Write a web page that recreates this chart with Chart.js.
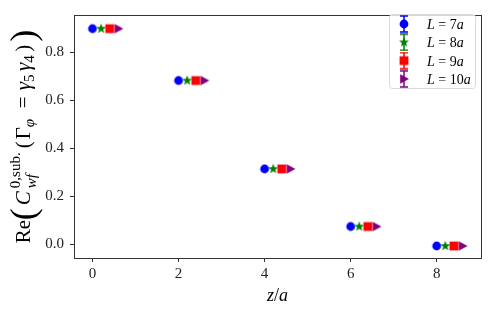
<!DOCTYPE html>
<html>
<head>
<meta charset="utf-8">
<script src="https://cdn.jsdelivr.net/npm/chart.js@4"></script>
<style>
  html, body { margin: 0; padding: 0; background: #fff; }
  #wrap { width: 489px; height: 312px; }
</style>
</head>
<body>
<div id="wrap"><canvas id="chart" width="489" height="312"></canvas></div>
<script>
// data
const zValues = [0, 2, 4, 6, 8];
const seriesLabels = ["7", "8", "9", "10"];
const xShift = [0, 0.2, 0.4, 0.6];
const valsL7 = [0.899, 0.683, 0.315, 0.075, -0.006];
const valsL8 = [0.899, 0.683, 0.315, 0.075, -0.006];
const valsL9 = [0.899, 0.683, 0.315, 0.075, -0.006];
const valsL10 = [0.899, 0.683, 0.315, 0.075, -0.006];
const xTicks = [0, 2, 4, 6, 8];
const yTicks = [0.0, 0.2, 0.4, 0.6, 0.8];

const colors = ["#0000ff", "#008000", "#ff0000", "#800080"];
const shapes = ["circle", "star", "square", "triRight"];
const SERIF = "'Liberation Serif', 'DejaVu Serif', serif";

// marker drawn on a small canvas, so the star and the right triangle look like matplotlib
function marker(shape, color, withBar) {
  const c = document.createElement("canvas");
  const w = 14, h = withBar ? 18 : 14;
  c.width = w; c.height = h;
  const g = c.getContext("2d");
  const cx = w / 2, cy = h / 2;
  g.fillStyle = color;
  g.strokeStyle = color;
  if (withBar) {
    g.lineWidth = 1.5;
    g.beginPath();
    g.moveTo(cx, 1); g.lineTo(cx, h - 1);
    g.moveTo(cx - 4, 1); g.lineTo(cx + 4, 1);
    g.moveTo(cx - 4, h - 1); g.lineTo(cx + 4, h - 1);
    g.stroke();
  }
  g.beginPath();
  if (shape === "circle") {
    g.arc(cx, cy, 4.4, 0, Math.PI * 2);
  } else if (shape === "square") {
    g.rect(cx - 4.4, cy - 4.4, 8.8, 8.8);
  } else if (shape === "triRight") {
    g.moveTo(cx + 5, cy);
    g.lineTo(cx - 3.8, cy - 4.8);
    g.lineTo(cx - 3.8, cy + 4.8);
    g.closePath();
  } else if (shape === "star") {
    for (let i = 0; i < 10; i++) {
      const r = i % 2 === 0 ? 5.2 : 2.2;
      const a = -Math.PI / 2 + i * Math.PI / 5;
      const px = cx + r * Math.cos(a), py = cy + r * Math.sin(a);
      if (i === 0) g.moveTo(px, py); else g.lineTo(px, py);
    }
    g.closePath();
  }
  g.fill();
  return c;
}

const allVals = [valsL7, valsL8, valsL9, valsL10];
const datasets = allVals.map((vals, i) => ({
  label: seriesLabels[i],
  data: zValues.map((z, k) => ({ x: z + xShift[i], y: vals[k] })),
  pointStyle: marker(shapes[i], colors[i], false),
  legendStyle: marker(shapes[i], colors[i], true),
  backgroundColor: colors[i],
  borderColor: colors[i],
  showLine: false
}));

// text pieces: [text, size, italic, dy, fixed advance]
function runWidth(g, parts) {
  let w = 0;
  parts.forEach(p => {
    g.font = (p[2] ? "italic " : "") + p[1] + "px " + SERIF;
    w += p[4] !== undefined ? p[4] : g.measureText(p[0]).width;
  });
  return w;
}
function drawRun(g, parts, x, y) {
  parts.forEach(p => {
    g.font = (p[2] ? "italic " : "") + p[1] + "px " + SERIF;
    g.fillText(p[0], x, y + (p[3] || 0));
    x += p[4] !== undefined ? p[4] : g.measureText(p[0]).width;
  });
  return x;
}

const decor = {
  id: "decor",
  afterDraw(chart) {
    const g = chart.ctx;
    const a = chart.chartArea;
    g.save();
    // frame on all four sides
    g.strokeStyle = "#333";
    g.lineWidth = 1;
    g.strokeRect(Math.round(a.left) + 0.5, Math.round(a.top) + 0.5,
      Math.round(a.right - a.left), Math.round(a.bottom - a.top));

    g.fillStyle = "#000";
    g.textBaseline = "alphabetic";

    // x title
    const xParts = [["z", 18, true, 0], ["/", 18, false, 0], ["a", 18, true, 0]];
    const xw = runWidth(g, xParts);
    drawRun(g, xParts, (a.left + a.right) / 2 - xw / 2, 301);

    // y title, rotated
    g.font = "15px " + SERIF;
    const supW = g.measureText("0,sub.").width;
    const yParts = [
      ["Re", 21, false, 0, 23],
      ["(", 36, false, 5, 15],
      ["C", 21, true, 0, 17],
      ["0,sub.", 15, false, -10, 0],
      ["wf", 15, true, 6, supW + 4],
      ["(", 21, false, 0, 9],
      ["Γ", 21, false, 0],
      ["φ", 15, true, 4, 13],
      ["", 21, false, 0, 6],
      ["=", 21, false, 0],
      ["", 21, false, 0, 6],
      ["γ", 21, true, 0],
      ["5", 15, false, 4, 11],
      ["γ", 21, true, 0],
      ["4", 15, false, 4, 11],
      [")", 21, false, 0, 10],
      [")", 36, false, 5]
    ];
    const yw = runWidth(g, yParts);
    g.save();
    g.translate(30, (a.top + a.bottom) / 2);
    g.rotate(-Math.PI / 2);
    drawRun(g, yParts, -yw / 2, 0);
    g.restore();

    // legend box in the upper right
    const bx = 389, by = 14, bw = 86, bh = 74;
    g.fillStyle = "rgba(255,255,255,0.8)";
    g.strokeStyle = "#d8d8d8";
    g.beginPath();
    g.roundRect(bx + 0.5, by + 0.5, bw, bh, 3);
    g.fill();
    g.stroke();
    chart.data.datasets.forEach((ds, i) => {
      const ry = by + 10 + i * 18.3;
      const img = ds.legendStyle;
      g.drawImage(img, 404 - img.width / 2, ry - img.height / 2);
      g.fillStyle = "#000";
      drawRun(g, [["L", 14, true, 0], [" = " + ds.label, 14, false, 0], ["a", 14, true, 0]], 427, ry + 5);
    });
    g.restore();
  }
};

new Chart(document.getElementById("chart"), {
  type: "scatter",
  data: { datasets: datasets },
  options: {
    responsive: false,
    animation: false,
    layout: { padding: { top: 5, right: 8, left: 0, bottom: 0 } },
    elements: { point: { radius: 5, hoverRadius: 5 } },
    plugins: { legend: { display: false }, tooltip: { enabled: false } },
    scales: {
      x: {
        type: "linear",
        min: -0.43,
        max: 9.03,
        afterBuildTicks: s => { s.ticks = xTicks.map(v => ({ value: v })); },
        afterFit: s => { s.height = 54; },
        border: { display: false },
        grid: { drawOnChartArea: false, drawTicks: true, tickLength: 4, color: "#333" },
        ticks: { color: "#222", font: { family: SERIF, size: 15 }, padding: 3, maxRotation: 0 }
      },
      y: {
        type: "linear",
        min: -0.056,
        max: 0.956,
        afterBuildTicks: s => { s.ticks = yTicks.map(v => ({ value: v })); },
        afterFit: s => { s.width = 74; },
        border: { display: false },
        grid: { drawOnChartArea: false, drawTicks: true, tickLength: 4, color: "#333" },
        ticks: { color: "#222", font: { family: SERIF, size: 15 }, padding: 6,
          callback: v => v.toFixed(1) }
      }
    }
  },
  plugins: [decor]
});
</script>
</body>
</html>
